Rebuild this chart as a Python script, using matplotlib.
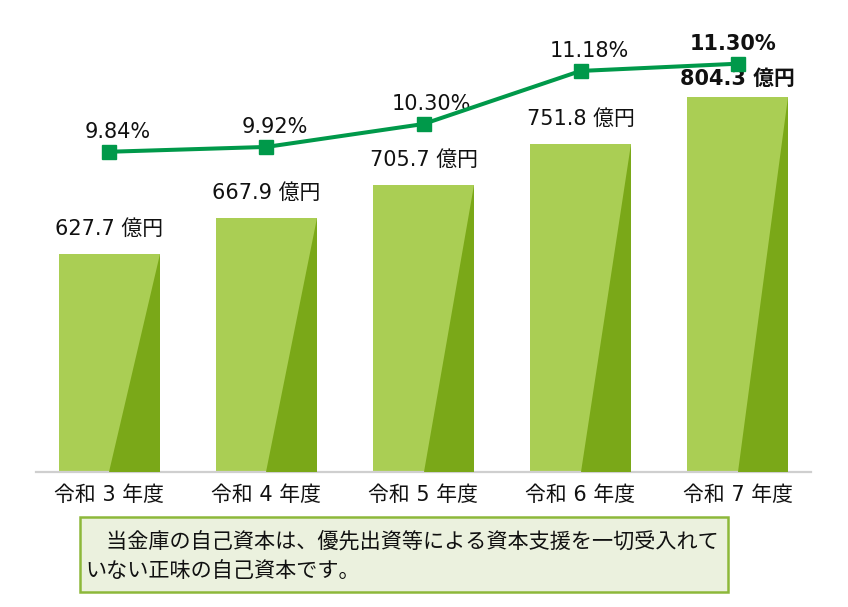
import matplotlib.pyplot as plt
from matplotlib.patches import Polygon, Rectangle

years = ["令和 3 年度", "令和 4 年度", "令和 5 年度", "令和 6 年度", "令和 7 年度"]
capital = [627.7, 667.9, 705.7, 751.8, 804.3]          # 億円
ratio = [9.84, 9.92, 10.30, 11.18, 11.30]              # %
note = "\u3000当金庫の自己資本は、優先出資等による資本支援を一切受入れて\nいない正味の自己資本です。"

FONTS = ["DejaVu Sans", "Noto Sans CJK JP"]
plt.rcParams["font.family"] = FONTS

LIGHT = "#AACE54"
DARK = "#7AA818"
LINE = "#00994A"

W, H = 848, 607
fig = plt.figure(figsize=(W / 100, H / 100), dpi=100)
ax = fig.add_axes([36 / W, (H - 472) / H, (811 - 36) / W, (472 - 20) / H])

base = 381.7
ax.set_xlim(-0.468, 4.468)
ax.set_ylim(base, 891.5)
xs = list(range(len(years)))
bw = 0.643

ax.bar(xs, [v - base for v in capital], bottom=base, width=bw, color=LIGHT, zorder=2)
for x, v in zip(xs, capital):
    tri = Polygon([(x, base), (x + bw / 2, base), (x + bw / 2, v)], closed=True,
                  facecolor=DARK, edgecolor="none", zorder=3)
    ax.add_patch(tri)

for i, (x, v) in enumerate(zip(xs, capital)):
    last = i == len(xs) - 1
    ax.annotate(f"{v:.1f} 億円", (x, v), textcoords="offset points",
                xytext=(0, 6 if last else 11), ha="center", va="bottom",
                fontsize=15, fontweight="bold" if last else "normal",
                color="#111111", zorder=6)

for s in ["top", "right", "left"]:
    ax.spines[s].set_visible(False)
ax.spines["bottom"].set_color("#CFCFCF")
ax.spines["bottom"].set_linewidth(1.6)
ax.set_yticks([])
ax.set_xticks(xs)
ax.set_xticklabels(years, fontsize=15, color="#111111")
ax.tick_params(axis="x", length=0, pad=9.5)

ax2 = ax.twinx()
ax2.set_ylim(4.529, 12.025)
ax2.plot(xs, ratio, color=LINE, lw=2.9, marker="s", markersize=10, zorder=5)
ax2.set_yticks([])
for s in ax2.spines.values():
    s.set_visible(False)
for i, (x, r) in enumerate(zip(xs, ratio)):
    last = i == len(xs) - 1
    ax2.annotate(f"{r:.2f}%", (x, r), textcoords="offset points",
                 xytext=(-3 if last else 6, 7), ha="center", va="bottom",
                 fontsize=15, fontweight="bold" if last else "normal",
                 color="#111111")

# note box under the chart
box = Rectangle((80 / W, (H - 592) / H), (728 - 80) / W, (592 - 517) / H,
                transform=fig.transFigure, facecolor="#EBF1DE",
                edgecolor="#8DB83A", linewidth=1.8)
fig.add_artist(box)
fig.text(85 / W, (H - 556.5) / H, note, ha="left", va="center", fontsize=15.2,
         family="Noto Sans CJK JP", linespacing=1.45, color="#111111")

fig.savefig("out.png", dpi=100)
